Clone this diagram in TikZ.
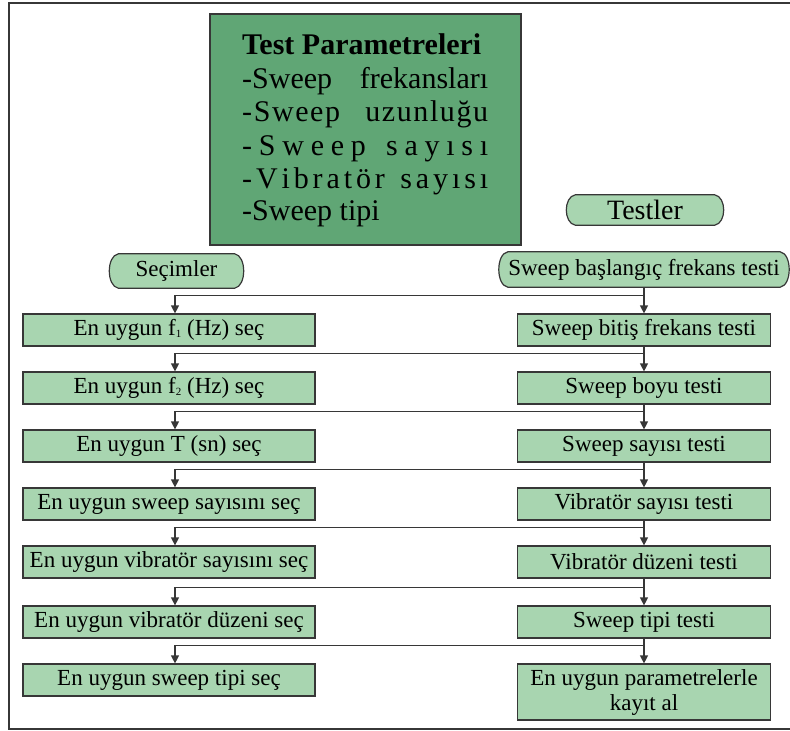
\documentclass[tikz,border=0pt]{standalone}
\usepackage{fontspec}
\setmainfont{Liberation Serif}
\usetikzlibrary{calc,arrows.meta,backgrounds}
\definecolor{lg}{RGB}{168,213,176}
\definecolor{dg}{RGB}{96,166,117}
\definecolor{ln}{RGB}{55,55,55}
\newcommand\blobpath[1]{\path[fill=lg,draw=ln,line width=1.2pt] (#1.north west) -- (#1.north east) .. controls ($(#1.north east)+(12,2)$) and ($(#1.south east)+(12,-2)$) .. (#1.south east) -- (#1.south west) .. controls ($(#1.south west)+(-12,-2)$) and ($(#1.north west)+(-12,2)$) .. (#1.north west) -- cycle;}
\newcommand\subf[1]{\raisebox{-1.5pt}{\fontsize{11}{11}\selectfont #1}}
\newcommand\ls{\hspace{1.6pt}}
\begin{document}
\begin{tikzpicture}[x=1pt,y=-1pt,
 box/.style={draw=ln,line width=1.2pt,fill=lg,minimum height=32pt,inner sep=0pt,font=\fontsize{23}{25}\selectfont,align=center},
 lbox/.style={box,minimum width=292pt},
 rbox/.style={box,minimum width=253pt},
 blob/.style={inner sep=0pt,font=\fontsize{23}{26}\selectfont},
 conn/.style={draw=ln,line width=1.2pt,-{Triangle[length=8pt,width=8pt]}},
 frame/.style={draw=ln,line width=1.6pt},
 title/.style={anchor=base west,inner sep=0pt,font=\fontsize{30}{33}\selectfont}
]
\useasboundingbox (0,0) rectangle (790,731);
\draw[frame] (790,3) -- (9,3) -- (9,729) -- (790,729);

% parameter box
\node[draw=ln,line width=2pt,fill=dg,minimum width=311pt,minimum height=231pt,inner sep=0pt] (par) at (365.5,129.5) {};
\node[title,font=\fontsize{30}{33}\selectfont\bfseries] (p1) at (242,54) {Test Parametreleri};
\node[title] (p2) at (242,88) {\makebox[246pt][s]{-Sweep frekansları}};
\node[title] (p3) at (242,121) {\makebox[246pt][s]{-\ls S\ls w\ls e\ls e\ls p\hfil u\ls z\ls u\ls n\ls l\ls u\ls ğ\ls u}};
\node[title] (p4) at (242,155) {\makebox[246pt][s]{-\hfil S\hfil w\hfil e\hfil e\hfil p\hfil\hfil\hfil s\hfil a\hfil y\hfil ı\hfil s\hfil ı}};
\node[title] (p5) at (242,188) {\makebox[246pt][s]{-\hfil V\hfil i\hfil b\hfil r\hfil a\hfil t\hfil ö\hfil r\hfil\hfil\hfil\hfil s\hfil a\hfil y\hfil ı\hfil s\hfil ı}};
\node[title] (p6) at (242,220) {-Sweep tipi};

% header shapes
\node[blob,minimum width=116pt,minimum height=34pt] (sec) at (176.5,271) {Seçimler};
\node[blob,font=\fontsize{28}{30}\selectfont,minimum width=139pt,minimum height=30pt] (tst) at (645,210) {Testler};
\node[blob,minimum width=272pt,minimum height=35pt] (r0) at (644,269.5) {Sweep başlangıç frekans testi};
\begin{pgfonlayer}{background}
\blobpath{sec}
\blobpath{tst}
\blobpath{r0}
\end{pgfonlayer}

% left column
\node[lbox] (l1) at (169,330) {En uygun f\subf{1} (Hz) seç};
\node[lbox] (l2) at (169,388) {En uygun f\subf{2} (Hz) seç};
\node[lbox] (l3) at (169,446) {En uygun T (sn) seç};
\node[lbox] (l4) at (169,504) {En uygun sweep sayısını seç};
\node[lbox] (l5) at (169,562) {En uygun vibratör sayısını seç};
\node[lbox] (l6) at (169,622) {En uygun vibratör düzeni seç};
\node[lbox] (l7) at (169,680) {En uygun sweep tipi seç};

% right column
\node[rbox] (r1) at (644,330) {Sweep bitiş frekans testi};
\node[rbox] (r2) at (644,388) {Sweep boyu testi};
\node[rbox] (r3) at (644,446) {Sweep sayısı testi};
\node[rbox] (r4) at (644,504) {Vibratör sayısı testi};
\node[rbox] (r5) at (644,562) {Vibratör düzeni testi};
\node[rbox] (r6) at (644,622) {Sweep tipi testi};
\node[rbox,minimum height=56pt] (r7) at (644,692) {En uygun parametrelerle\\kayıt al};

% connectors
\foreach \i [evaluate=\i as \j using int(\i-1)] in {1,...,7}{
  \draw[conn] (r\j.south) -- (r\i.north);
  \draw[conn] (r\j.south) |- ($(l\i.north)+(6,-18)$) -- ($(l\i.north)+(6,0)$);
}
\end{tikzpicture}
\end{document}
